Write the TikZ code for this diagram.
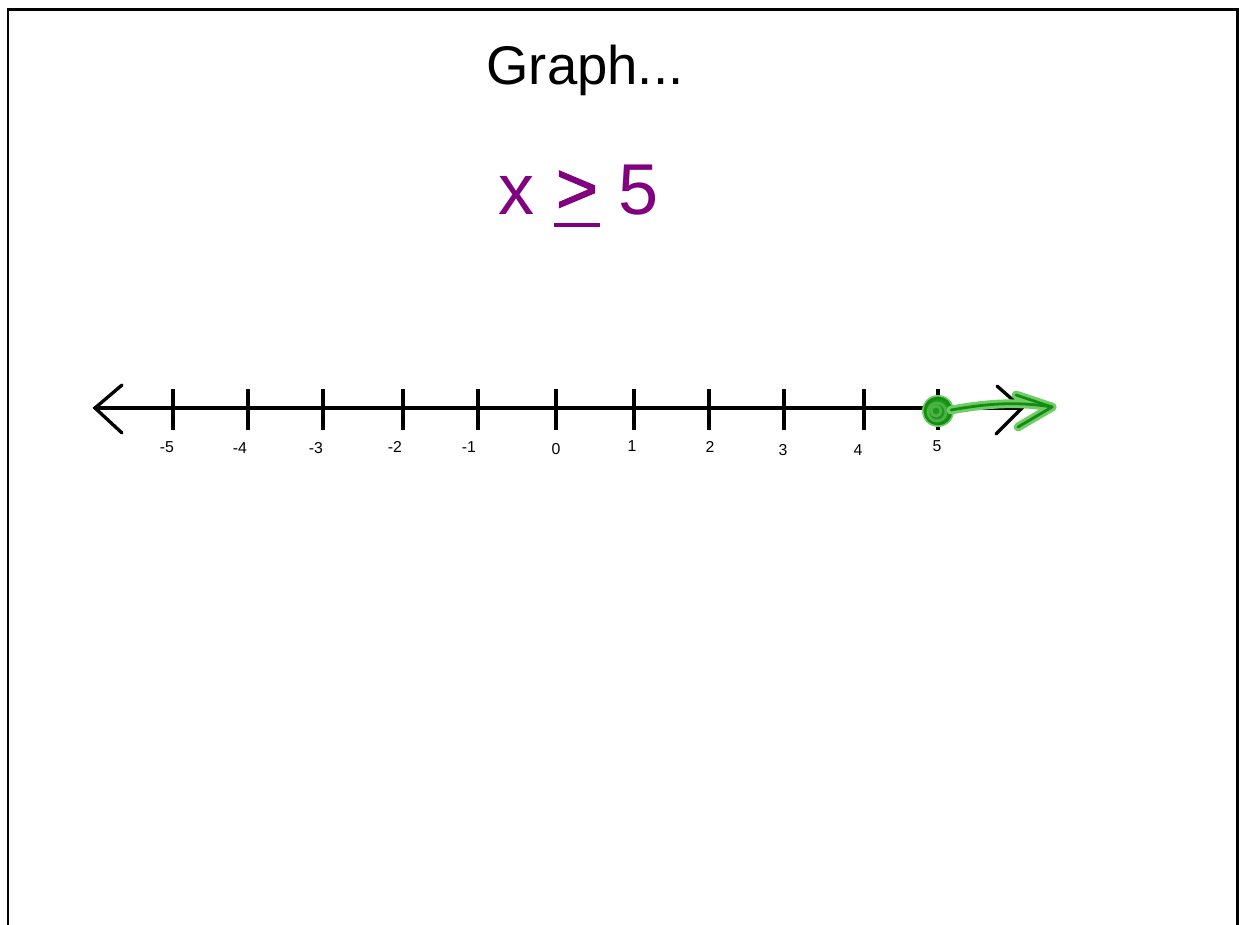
\documentclass[tikz,border=0pt]{standalone}
\usepackage{fontspec}
\setmainfont{Liberation Sans}
\usetikzlibrary{
  calc, % For coordinate calculations
  arrows.meta % For arrow tips
}

\definecolor{ineqpurple}{RGB}{128,0,128}
\definecolor{markgreen}{RGB}{20,140,20}
\definecolor{glowgreen}{RGB}{110,205,100}

\begin{document}
\begin{tikzpicture}[
      x=0.02cm, y=-0.02cm, % One unit = one pixel of the slide
      frame/.style={line width=1.7pt}, % Slide border
      axis/.style={line width=1.9pt, line cap=round}, % Number line
      tickmark/.style={line width=2.6pt}, % Tick marks
      numlbl/.style={font=\fontsize{9}{10}\selectfont}, % Tick labels
      glow/.style={glowgreen, line width=5pt, line cap=round, line join=round}, % Marker halo
      pen/.style={markgreen, line width=1.6pt, line cap=round, line join=round}, % Marker stroke
    ]

    \useasboundingbox (0,0) rectangle (1239,925);

    % Rahmen der Folie
    \draw[frame] (8,940) -- (8,10) -- (1237,10) -- (1237,940);

    % Titel
    \node (title) at (585,70) {\fontsize{31}{36}\selectfont Graph...};

    % Ungleichung
    \node[ineqpurple, anchor=base] (xvar) at (516,215) {\fontsize{41}{48}\selectfont x};
    \node[ineqpurple, anchor=base] (gtsym) at (577,213) {\fontsize{41}{48}\selectfont\addfontfeature{FakeBold=1.5} >};
    \node[ineqpurple, anchor=base] (five) at (639,215) {\fontsize{41}{48}\selectfont 5};
    \coordinate (ulA) at (554,225);
    \coordinate (ulB) at (600,225);
    \draw[ineqpurple, line width=2.2pt] (ulA) -- (ulB);

    % Zahlenstrahl
    \coordinate (L) at (95,408);
    \coordinate (R) at (1022,408);
    \draw[axis] (L) -- (R);
    \draw[axis] ($(L)+(27,-23)$) -- (L) -- ($(L)+(27,25)$);
    \draw[axis] ($(R)+(-25,-22)$) -- (R) -- ($(R)+(-26,26)$);

    % Striche und Beschriftung
    \foreach \i/\n/\x/\lx/\ly in {1/-5/173/167/447, 2/-4/248/240/448, 3/-3/323/316/448,
        4/-2/403/395/447, 5/-1/478/469/447, 6/0/556/556/449, 7/1/634/632/446,
        8/2/709/710/447, 9/3/784/783/450, 10/4/864/858/450, 11/5/938/937/446} {
      \coordinate (t\i) at (\x,408);
      \draw[tickmark] ($(t\i)+(0,-19)$) -- ($(t\i)+(0,22)$);
      \node[numlbl] (n\i) at (\lx,\ly) {\n};
    }

    % Loesung: x >= 5
    \coordinate (dot) at (938,411);
    \coordinate (tipG) at (1052,407);
    \fill[glowgreen] (dot) circle (16);
    \fill[markgreen!85!glowgreen] (dot) circle (12);
    \draw[pen] (dot) circle (13);
    \draw[pen, glowgreen!60!markgreen] ($(dot)+(-1,1)$) circle (9);
    \draw[pen, glowgreen!60!markgreen] ($(dot)+(-2,0)$) circle (5);
    \draw[glow] ($(dot)+(13,-1)$) .. controls (985,404) and (1015,401) .. (tipG);
    \draw[glow] (1016,395) -- (tipG) -- (1018,427);
    \draw[pen] ($(dot)+(13,-1)$) .. controls (985,404) and (1015,401) .. (tipG);
    \draw[pen] (1016,395) -- (tipG) -- (1018,427);

  \end{tikzpicture}
\end{document}
